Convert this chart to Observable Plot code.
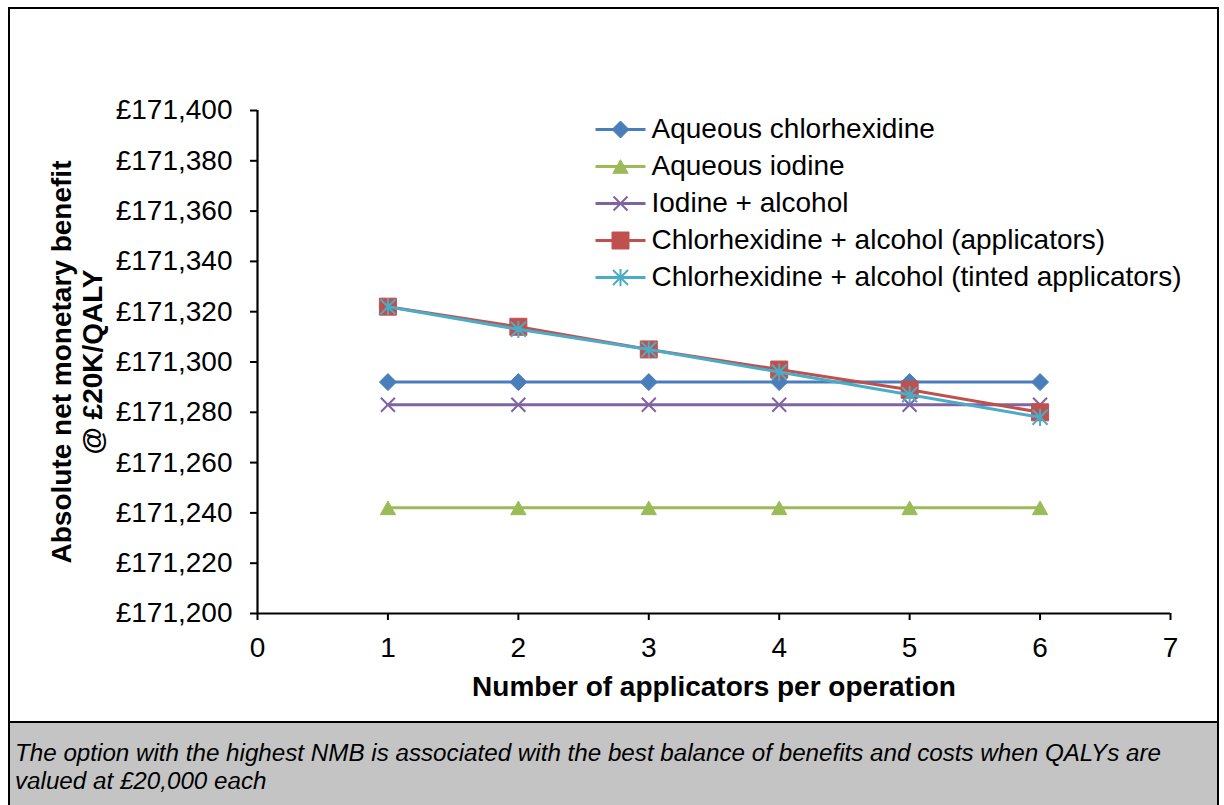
<!DOCTYPE html>
<html>
<head>
<meta charset="utf-8">
<script src="https://cdn.jsdelivr.net/npm/d3@7"></script>
<script src="https://cdn.jsdelivr.net/npm/@observablehq/plot@0.6"></script>
<style>
  html, body { margin: 0; padding: 0; background: #fff; width: 1224px; height: 805px; overflow: hidden; }
  body { position: relative; font-family: "Liberation Sans", Arial, sans-serif; }
  #frame { position: absolute; left: 8px; top: 7px; width: 1211px; height: 810px; border: 2px solid #000; box-sizing: border-box; }
  #chart { position: absolute; left: 0; top: 0; }
  #legend { position: absolute; left: 595px; top: 107px; }
  #caption { position: absolute; left: 8px; top: 721px; width: 1211px; height: 100px; box-sizing: border-box;
             background: #c4c4c4; border: 2px solid #000; padding: 16px 0 0 5px;
             font-style: italic; font-size: 24.2px; line-height: 28px; color: #000; }
</style>
</head>
<body>
<div id="frame"></div>
<div id="chart"></div>
<div id="legend"></div>
<div id="caption">The option with the highest NMB is associated with the best balance of benefits and costs when QALYs are<br>valued at £20,000 each</div>
<script>
// Applicators used per operation (x) and net monetary benefit (£) per option
const applicators = [1, 2, 3, 4, 5, 6];
const aqueousChlorhexidine = [171292, 171292, 171292, 171292, 171292, 171292];
const aqueousIodine = [171242, 171242, 171242, 171242, 171242, 171242];
const iodineAlcohol = [171283, 171283, 171283, 171283, 171283, 171283];
const chlorhexidineAlcoholApplicators = [171322, 171314, 171305, 171297, 171289, 171280];
const chlorhexidineAlcoholTinted = [171322, 171313, 171305, 171296, 171287, 171278];

const seriesNames = [
  "Aqueous chlorhexidine",
  "Aqueous iodine",
  "Iodine + alcohol",
  "Chlorhexidine + alcohol (applicators)",
  "Chlorhexidine + alcohol (tinted applicators)"
];
const seriesValues = [aqueousChlorhexidine, aqueousIodine, iodineAlcohol, chlorhexidineAlcoholApplicators, chlorhexidineAlcoholTinted];
const seriesColors = ["#4a7ebb", "#9bbb59", "#8064a2", "#c0504d", "#4bacc6"];

const xTicks = [0, 1, 2, 3, 4, 5, 6, 7];
const yTicks = [171200, 171220, 171240, 171260, 171280, 171300, 171320, 171340, 171360, 171380, 171400];
const xTitle = "Number of applicators per operation";
const yTitle = "Absolute net monetary benefit\n@ £20K/QALY";

// Marker shapes in the spreadsheet style
const half = (size) => Math.sqrt(size / Math.PI);
const diamond = { draw(c, s) { const r = half(s); c.moveTo(0, -r); c.lineTo(r, 0); c.lineTo(0, r); c.lineTo(-r, 0); c.closePath(); } };
const triangle = { draw(c, s) { const r = half(s); c.moveTo(0, -0.8 * r); c.lineTo(0.9 * r, 0.8 * r); c.lineTo(-0.9 * r, 0.8 * r); c.closePath(); } };
const times = { draw(c, s) { const r = half(s); c.moveTo(-r, -r); c.lineTo(r, r); c.moveTo(r, -r); c.lineTo(-r, r); } };
const square = { draw(c, s) { const r = half(s); c.moveTo(-r, -r); c.lineTo(r, -r); c.lineTo(r, r); c.lineTo(-r, r); c.closePath(); } };
const star = { draw(c, s) { const r = half(s); c.moveTo(-r, -r); c.lineTo(r, r); c.moveTo(r, -r); c.lineTo(-r, r); c.moveTo(0, -r * 1.15); c.lineTo(0, r * 1.15); } };
const seriesSymbols = [diamond, triangle, times, square, star];
const symbolFilled = [true, true, false, true, false];
const symbolRadius = [8.5, 8.5, 7, 8.5, 7.5];

const series = seriesNames.map((name, i) => ({
  name, color: seriesColors[i], symbol: seriesSymbols[i], filled: symbolFilled[i], r: symbolRadius[i],
  rows: applicators.map((a, j) => ({ applicators: a, nmb: seriesValues[i][j] }))
}));

const dotStyle = (s) => s.filled
  ? { fill: s.color, stroke: s.color, strokeWidth: 1 }
  : { fill: "none", stroke: s.color, strokeWidth: 2 };

const seriesMarks = series.flatMap((s) => [
  Plot.line(s.rows, { x: "applicators", y: "nmb", stroke: s.color, strokeWidth: 3 }),
  Plot.dot(s.rows, { x: "applicators", y: "nmb", symbol: s.symbol, r: s.r, ...dotStyle(s) })
]);

const font = "Liberation Sans, Arial, sans-serif";
const fs = 28;

const chart = Plot.plot({
  width: 1224,
  height: 721,
  marginLeft: 257,
  marginRight: 54,
  marginTop: 110,
  marginBottom: 108,
  style: { fontFamily: font, fontSize: fs + "px", color: "#000", background: "transparent", overflow: "visible" },
  x: { domain: [0, 7] },
  y: { domain: [171200, 171400] },
  marks: [
    Plot.axisX({ ticks: xTicks, tickSize: 7, tickPadding: 17, strokeWidth: 2, fontSize: fs, label: null,
                 tickFormat: (d) => String(d) }),
    Plot.axisY({ ticks: yTicks, tickSize: 7, tickPadding: 18, strokeWidth: 2, fontSize: fs, label: null,
                 tickFormat: (d) => "£" + d3.format(",")(d) }),
    Plot.ruleX([0], { stroke: "#000", strokeWidth: 2.2 }),
    Plot.ruleY([171200], { stroke: "#000", strokeWidth: 2.2 }),
    ...seriesMarks,
    Plot.text([xTitle], { frameAnchor: "bottom", dy: 74, lineAnchor: "middle", fontWeight: "bold", fontSize: fs }),
    Plot.text([yTitle], { frameAnchor: "left", dx: -181, rotate: -90, textAnchor: "middle", lineAnchor: "middle",
                          lineHeight: 1.1, fontWeight: "bold", fontSize: fs })
  ]
});
document.getElementById("chart").append(chart);

// Legend: short line with the series marker, then the series name
const legendMarks = series.flatMap((s) => {
  const row = [{ name: s.name }];
  return [
    Plot.link(row, { x1: () => 0, x2: () => 1, y1: "name", y2: "name", stroke: s.color, strokeWidth: 3 }),
    Plot.dot(row, { x: () => 0.5, y: "name", symbol: s.symbol, r: s.r, ...dotStyle(s) }),
    Plot.text(row, { x: () => 1, y: "name", text: "name", dx: 6, textAnchor: "start", fontSize: fs, fill: "#000" })
  ];
});
const legend = Plot.plot({
  width: 620,
  height: 200,
  margin: 0,
  style: { fontFamily: font, color: "#000", background: "transparent", overflow: "visible" },
  x: { domain: [0, 1], range: [0, 50], axis: null },
  y: { type: "point", domain: seriesNames, padding: 0, range: [20, 20 + 4 * 37.8], axis: null },
  marks: legendMarks
});
document.getElementById("legend").append(legend);
</script>
</body>
</html>
